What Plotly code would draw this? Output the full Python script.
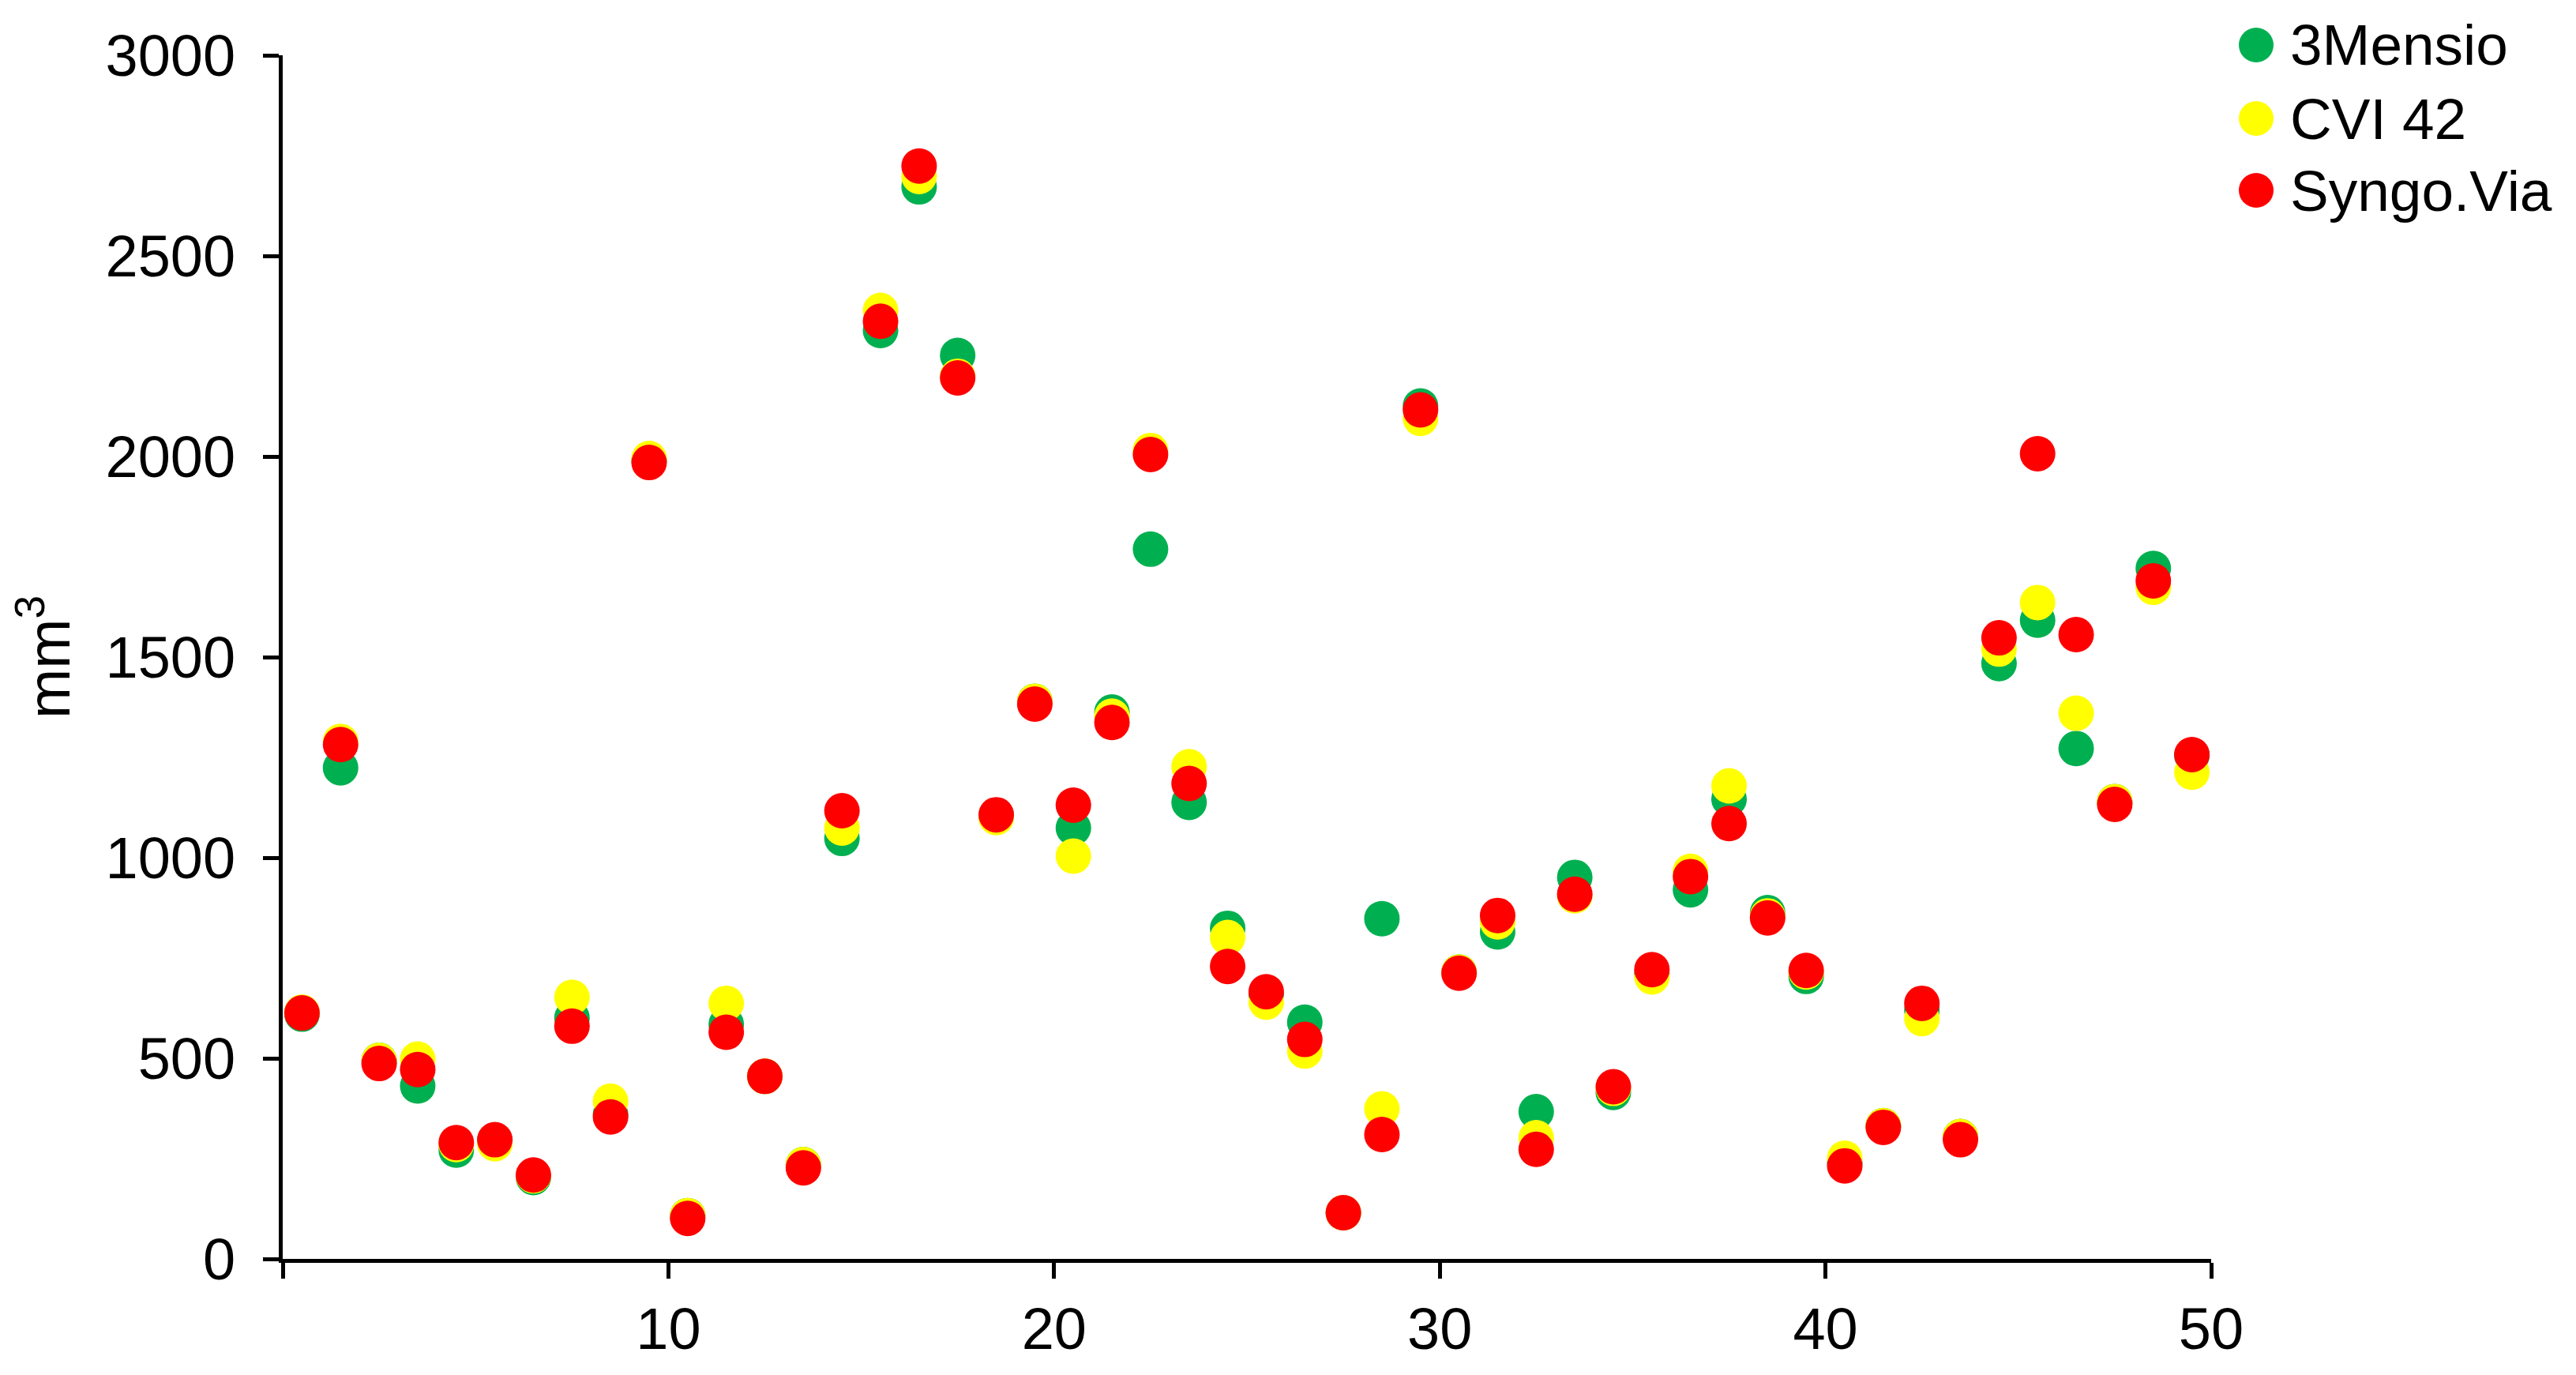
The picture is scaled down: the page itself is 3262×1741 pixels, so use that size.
import plotly.graph_objects as go

# Case positions on the x axis
case_x = [0.5, 1.5, 2.5, 3.5, 4.5, 5.5, 6.5, 7.5, 8.5, 9.5,
          10.5, 11.5, 12.5, 13.5, 14.5, 15.5, 16.5, 17.5, 18.5, 19.5,
          20.5, 21.5, 22.5, 23.5, 24.5, 25.5, 26.5, 27.5, 28.5, 29.5,
          30.5, 31.5, 32.5, 33.5, 34.5, 35.5, 36.5, 37.5, 38.5, 39.5,
          40.5, 41.5, 42.5, 43.5, 44.5, 45.5, 46.5, 47.5, 48.5, 49.5]

mensio = [610, 1224, 495, 431, 271, 295, 203, 601, 360, 1990,
          108, 585, 455, 235, 1048, 2314, 2672, 2252, 1105, 1390,
          1074, 1363, 1769, 1138, 824, 660, 590, 115, 848, 2126,
          715, 815, 367, 951, 415, 710, 920, 1146, 863, 704,
          240, 332, 620, 305, 1484, 1592, 1272, 1140, 1721, 1255]

cvi42 = [615, 1290, 495, 498, 285, 287, 207, 652, 393, 1995,
         108, 637, 455, 235, 1074, 2364, 2698, 2200, 1100, 1390,
         1004, 1353, 2015, 1227, 801, 640, 518, 115, 374, 2095,
         715, 840, 302, 905, 425, 703, 966, 1179, 855, 715,
         251, 332, 599, 305, 1520, 1636, 1360, 1140, 1674, 1213]

syngo = [613, 1282, 487, 472, 290, 297, 209, 580, 354, 1985,
         101, 565, 455, 227, 1117, 2337, 2724, 2196, 1107, 1383,
         1131, 1337, 2005, 1185, 729, 666, 547, 115, 310, 2116,
         712, 856, 273, 909, 429, 721, 953, 1085, 850, 719,
         232, 328, 637, 297, 1548, 2007, 1556, 1133, 1690, 1257]

series_names = ["3Mensio", "CVI 42", "Syngo.Via"]
series_colors = ["#00B050", "#FFFF00", "#FF0000"]
series_values = [mensio, cvi42, syngo]

x_tickvals = [0, 10, 20, 30, 40, 50]
x_ticktext = [" ", "10", "20", "30", "40", "50"]
y_tickvals = [0, 500, 1000, 1500, 2000, 2500, 3000]

FONT = "Liberation Sans, Arial, sans-serif"
OFF = 8  # page body margin
W, H = 3262 - 2 * OFF, 1741 - 2 * OFF
L, T = 358 - OFF, 70 - OFF
R = W - (2800 - OFF)
B = H - (1594 - OFF)

fig = go.Figure()
for name, color, vals in zip(series_names, series_colors, series_values):
    fig.add_trace(go.Scatter(
        x=case_x, y=vals, mode="markers", name=name,
        marker=dict(size=45, color=color, line=dict(width=0)),
        cliponaxis=False, showlegend=False,
    ))

# Custom legend (large markers like the reference)
pw = W - L - R
ph = H - T - B
leg_marker_x = 2857 - OFF
leg_text_x = 2898 - OFF
leg_rows_y = [57 - OFF, 150 - OFF, 241 - OFF]
for name, color, py in zip(series_names, series_colors, leg_rows_y):
    xp = (leg_marker_x - L) / pw
    yp = (H - B - py) / ph
    fig.add_shape(type="circle", xref="paper", yref="paper",
                  xsizemode="pixel", ysizemode="pixel",
                  xanchor=xp, yanchor=yp, x0=-22, x1=22, y0=-22, y1=22,
                  fillcolor=color, line=dict(width=0))
    fig.add_annotation(text=name, xref="paper", yref="paper",
                       x=(leg_text_x - L) / pw, y=yp, xanchor="left", yanchor="middle",
                       showarrow=False, font=dict(family=FONT, size=73, color="black"))

axis_common = dict(
    showline=True, linecolor="black", linewidth=5,
    ticks="outside", ticklen=20, tickwidth=5, tickcolor="black",
    showgrid=False, zeroline=False, automargin=False,
    tickfont=dict(family=FONT, size=74, color="black"),
)

fig.update_layout(
    width=W, height=H, autosize=False,
    margin=dict(l=L, r=R, t=T, b=B, pad=0),
    paper_bgcolor="white", plot_bgcolor="white",
    xaxis=dict(range=[0, 50], tickmode="array", tickvals=x_tickvals, ticktext=x_ticktext,
               ticklabelstandoff=0, **axis_common),
    yaxis=dict(range=[0, 3000], tickmode="array", tickvals=y_tickvals,
               ticklabelstandoff=20,
               title=dict(text="mm<sup>3</sup>", font=dict(family=FONT, size=76, color="black"),
                          standoff=40),
               **axis_common),
)

fig.write_html("out.html")
